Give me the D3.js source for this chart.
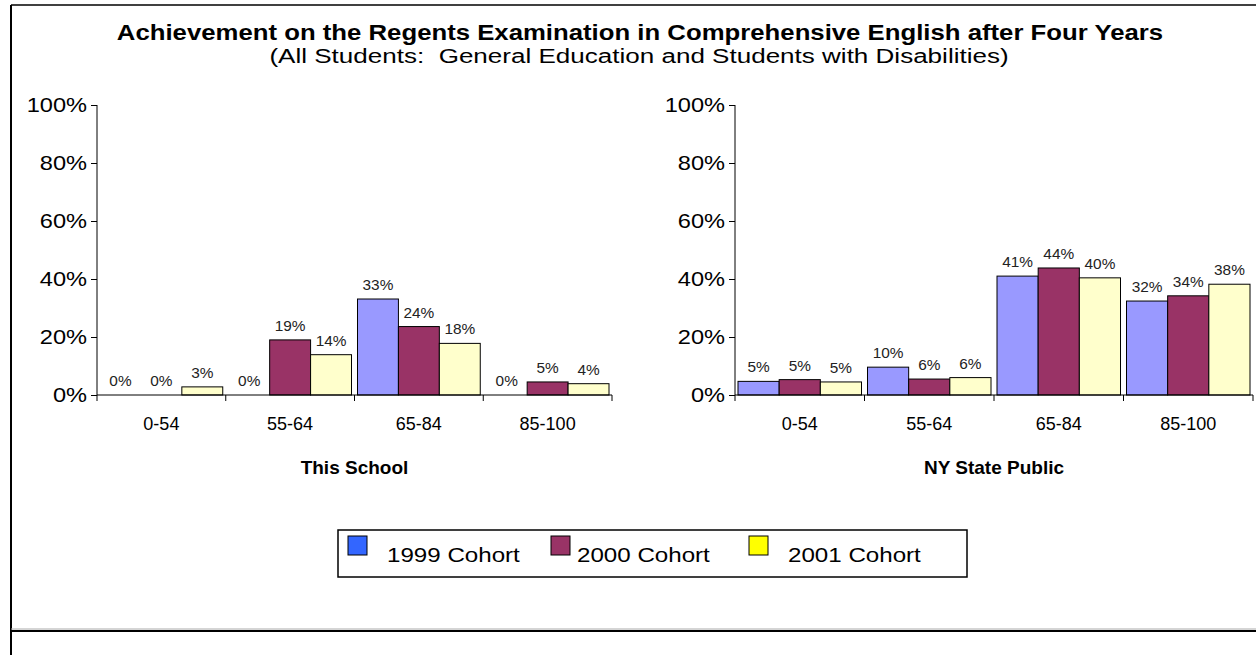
<!DOCTYPE html>
<meta charset="utf-8">
<script src="https://d3js.org/d3.v7.min.js"></script>
<style>
  body { margin: 0; background: #fff; }
  text { font-family: "Liberation Sans", Arial, sans-serif; fill: #000; }
</style>
<div id="chart"></div>
<script>
// score bands and cohorts
var categories = ["0-54", "55-64", "65-84", "85-100"];
var cohorts = ["1999 Cohort", "2000 Cohort", "2001 Cohort"];
var yTicks = [0, 20, 40, 60, 80, 100];

// percent of students, one array per cohort
var school1999 = [0, 0, 33.1, 0];
var school2000 = [0, 19, 23.6, 4.5];
var school2001 = [2.8, 13.9, 17.8, 3.9];
var state1999 = [4.7, 9.6, 41, 32.4];
var state2000 = [5.3, 5.5, 43.8, 34.2];
var state2001 = [4.5, 6, 40.4, 38.2];

var barColors = ["#9999ff", "#993366", "#ffffcc"];
var legendColors = ["#3366ff", "#993366", "#ffff00"];

var W = 1256, H = 655;
var svg = d3.select("#chart").append("svg")
    .attr("width", W)
    .attr("height", H);

// the original's text is a bit wider than Arial, stretch it sideways
function stretch(sel, k) {
  sel.each(function() {
    var t = d3.select(this);
    var x = +t.attr("x") || 0, yy = +t.attr("y") || 0;
    t.attr("x", 0).attr("y", 0)
     .attr("transform", "translate(" + x + "," + yy + ") scale(" + k + ",1)");
  });
}

// outer frame
svg.append("line").attr("x1", 11).attr("x2", W).attr("y1", 5).attr("y2", 5)
    .attr("stroke", "#000").attr("stroke-width", 1.5);
svg.append("line").attr("x1", 11).attr("x2", 11).attr("y1", 5).attr("y2", H)
    .attr("stroke", "#000").attr("stroke-width", 2);
svg.append("line").attr("x1", 11).attr("x2", W).attr("y1", 629).attr("y2", 629)
    .attr("stroke", "#aaa").attr("stroke-width", 1);
svg.append("line").attr("x1", 11).attr("x2", W).attr("y1", 631).attr("y2", 631)
    .attr("stroke", "#000").attr("stroke-width", 2);

// titles
svg.append("text")
    .attr("x", 640).attr("y", 40)
    .attr("text-anchor", "middle")
    .style("font-size", "22px").style("font-weight", "bold")
    .text("Achievement on the Regents Examination in Comprehensive English after Four Years")
    .call(stretch, 1.17);
svg.append("text")
    .attr("x", 639).attr("y", 63)
    .attr("text-anchor", "middle")
    .style("font-size", "21px")
    .style("white-space", "pre")
    .text("(All Students:  General Education and Students with Disabilities)")
    .call(stretch, 1.24);

var y = d3.scaleLinear().domain([0, 100]).range([395, 105]);

function drawPanel(left, right, series, title) {
  var x0 = d3.scaleBand().domain(categories).range([left, right]).padding(0);
  var x1 = d3.scaleBand().domain(cohorts).range([3, x0.bandwidth() - 3]).padding(0);

  var g = svg.append("g");

  // y axis
  var yAxis = g.append("g")
      .attr("transform", "translate(" + left + ",0)")
      .call(d3.axisLeft(y).tickValues(yTicks).tickSize(6).tickPadding(4)
        .tickFormat(function(d) { return d + "%"; }));
  yAxis.select(".domain").attr("d", "M0," + y(100) + "V" + y(0));
  yAxis.selectAll("text").style("font-size", "20px").style("fill", "#000").call(stretch, 1.18);

  // bars
  var rows = categories.map(function(c, i) {
    return cohorts.map(function(k, j) { return {cat: c, cohort: k, j: j, v: series[j][i]}; });
  });

  var grp = g.selectAll(".grp").data(rows).enter().append("g")
      .attr("transform", function(d) { return "translate(" + x0(d[0].cat) + ",0)"; });

  grp.selectAll("rect").data(function(d) { return d.filter(function(e) { return e.v > 0; }); })
    .enter().append("rect")
      .attr("x", function(d) { return x1(d.cohort); })
      .attr("y", function(d) { return y(d.v); })
      .attr("width", x1.bandwidth())
      .attr("height", function(d) { return y(0) - y(d.v); })
      .attr("fill", function(d) { return barColors[d.j]; })
      .attr("stroke", "#000")
      .attr("stroke-width", 1);

  grp.selectAll(".lbl").data(function(d) { return d; })
    .enter().append("text")
      .attr("x", function(d) { return x1(d.cohort) + x1.bandwidth() / 2; })
      .attr("y", function(d) { return y(d.v) - 9; })
      .attr("text-anchor", "middle")
      .style("font-size", "14px")
      .style("fill", "#222")
      .text(function(d) { return Math.round(d.v) + "%"; })
      .call(stretch, 1.1);

  // x axis with ticks between categories
  var xAxis = g.append("g");
  xAxis.append("line")
      .attr("x1", left).attr("x2", right)
      .attr("y1", y(0)).attr("y2", y(0))
      .attr("stroke", "#000");
  xAxis.selectAll(".tk").data(categories.concat(["end"])).enter().append("line")
      .attr("x1", function(d, i) { return left + i * x0.step(); })
      .attr("x2", function(d, i) { return left + i * x0.step(); })
      .attr("y1", y(0)).attr("y2", y(0) + 6)
      .attr("stroke", "#000");
  xAxis.selectAll(".cl").data(categories).enter().append("text")
      .attr("x", function(d) { return x0(d) + x0.bandwidth() / 2; })
      .attr("y", y(0) + 35)
      .attr("text-anchor", "middle")
      .style("font-size", "18px")
      .text(function(d) { return d; });

  svg.append("text")
      .attr("x", (left + right) / 2).attr("y", 474)
      .attr("text-anchor", "middle")
      .style("font-size", "19px").style("font-weight", "bold")
      .text(title);
}

drawPanel(97, 612, [school1999, school2000, school2001], "This School");
drawPanel(735, 1253, [state1999, state2000, state2001], "NY State Public");

// legend
var legend = svg.append("g");
legend.append("rect")
    .attr("x", 338).attr("y", 530).attr("width", 629).attr("height", 47)
    .attr("fill", "#fff").attr("stroke", "#000").attr("stroke-width", 1.5);
var legX = [348, 551, 749];
var legTextX = [387, 577, 788];
cohorts.forEach(function(c, i) {
  legend.append("rect")
      .attr("x", legX[i]).attr("y", 536).attr("width", 19).attr("height", 19)
      .attr("fill", legendColors[i]).attr("stroke", "#000").attr("stroke-width", 1);
  legend.append("text")
      .attr("x", legTextX[i]).attr("y", 562)
      .style("font-size", "21px")
      .text(c)
      .call(stretch, 1.15);
});
</script>
